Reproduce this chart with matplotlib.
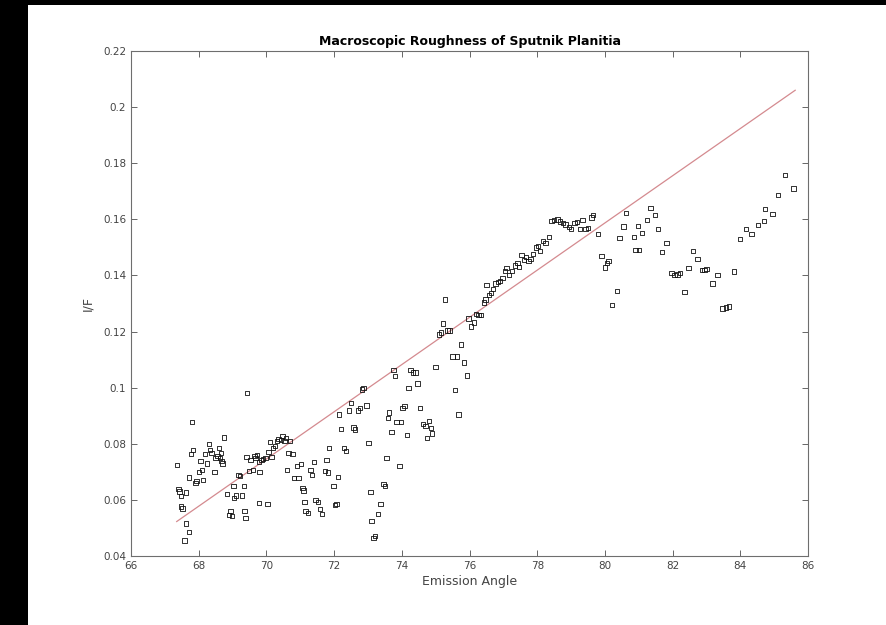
import matplotlib.pyplot as plt
import numpy as np
from matplotlib.patches import Rectangle

# emission angle / I/F pairs
emission = [
    67.35, 67.40, 67.43, 67.47, 67.48, 67.52, 67.63, 67.63, 67.72, 67.58,
    67.72, 67.80, 67.84, 67.77, 67.90, 67.94, 68.00, 68.10, 68.13, 68.05,
    68.18, 68.25, 68.30, 68.34, 68.38, 68.47, 68.50, 68.55, 68.60, 68.63,
    68.66, 68.70, 68.74, 68.67,
    68.84, 68.90, 68.94, 68.98, 69.03, 69.05, 69.10, 69.18, 69.22, 69.28,
    69.35, 69.38, 69.34, 69.43, 69.41, 69.48, 69.53, 69.60, 69.65, 69.68,
    69.73, 69.78, 69.80, 69.78, 69.86, 69.90, 69.97, 70.03, 70.06, 70.10,
    70.15, 70.20, 70.25, 70.31, 70.36, 70.43, 70.48, 70.53, 70.58, 70.65,
    70.70, 70.77, 70.61, 70.82, 70.90, 70.95, 71.02, 71.07, 71.10, 71.12,
    71.15, 71.23, 71.30, 71.35, 71.40, 71.45, 71.52, 71.58, 71.65, 71.73,
    71.78, 71.82, 71.85, 71.98, 72.02, 72.07, 72.12, 72.15, 72.20, 72.30,
    72.35, 72.44, 72.49, 72.57, 72.62, 72.70, 72.76, 72.82, 72.87, 72.96,
    73.02, 73.07, 73.10, 73.16, 73.20, 73.30, 73.37, 73.46, 73.50, 73.55,
    73.60, 73.63, 73.70, 73.75, 73.80, 73.84, 73.93, 73.97, 74.02, 74.08,
    74.16, 74.20, 74.26, 74.33, 74.40, 74.46, 74.53, 74.63, 74.70, 74.75,
    74.80, 74.86, 74.90, 75.00, 75.10, 75.16, 75.21, 75.28, 75.35, 75.41,
    75.50, 75.57, 75.63, 75.67, 75.75, 75.84, 75.93, 75.97, 76.05, 76.13,
    76.20, 76.27, 76.33, 76.43, 76.47, 76.50, 76.57, 76.64, 76.70, 76.77,
    76.84, 76.90, 76.97, 77.04, 77.09, 77.17, 77.25, 77.34, 77.42, 77.47,
    77.54, 77.60, 77.67, 77.74, 77.80, 77.87, 77.97, 78.02, 78.09, 78.17,
    78.24, 78.34, 78.42, 78.50, 78.60, 78.68, 78.76, 78.84, 78.93, 79.00,
    79.10, 79.18, 79.26, 79.34, 79.43, 79.50, 79.60, 79.64, 79.80,
    79.90, 80.00, 80.06, 80.11, 80.21, 80.35, 80.43, 80.55, 80.63, 80.85,
    80.90, 81.00, 80.98, 81.10, 81.24, 81.35, 81.47, 81.57, 81.69, 81.82,
    81.97, 82.05, 82.14, 82.22, 82.35, 82.47, 82.60, 82.73, 82.86, 82.94,
    83.00, 83.18, 83.32, 83.47, 83.57, 83.66, 83.81, 83.99, 84.16, 84.33,
    84.53, 84.70, 84.73, 84.95, 85.12, 85.32, 85.57,
]
i_over_f = [
    0.0724, 0.0638, 0.0630, 0.0613, 0.0576, 0.0570, 0.0627, 0.0516, 0.0485, 0.0455,
    0.0680, 0.0877, 0.0778, 0.0763, 0.0661, 0.0668, 0.0700, 0.0707, 0.0670, 0.0738,
    0.0763, 0.0730, 0.0799, 0.0778, 0.0767, 0.0700, 0.0750, 0.0757, 0.0785, 0.0750,
    0.0767, 0.0730, 0.0823, 0.0738,
    0.0621, 0.0546, 0.0560, 0.0542, 0.0650, 0.0607, 0.0615, 0.0688, 0.0685, 0.0615,
    0.0560, 0.0536, 0.0650, 0.0980, 0.0752, 0.0702, 0.0742, 0.0707, 0.0757, 0.0750,
    0.0759, 0.0735, 0.0700, 0.0589, 0.0742, 0.0745, 0.0750, 0.0586, 0.0771, 0.0806,
    0.0752, 0.0785, 0.0792, 0.0809, 0.0816, 0.0813, 0.0827, 0.0809, 0.0820, 0.0767,
    0.0809, 0.0763, 0.0707, 0.0678, 0.0721, 0.0678, 0.0728, 0.0643, 0.0633, 0.0593,
    0.0560, 0.0553, 0.0707, 0.0688, 0.0735, 0.0600, 0.0593, 0.0568, 0.0550, 0.0702,
    0.0742, 0.0697, 0.0785, 0.0650, 0.0582, 0.0586, 0.0681, 0.0905, 0.0853, 0.0785,
    0.0775, 0.0919, 0.0945, 0.0858, 0.0851, 0.0919, 0.0927, 0.0993, 0.0998, 0.0937,
    0.0802, 0.0629, 0.0525, 0.0465, 0.0472, 0.0550, 0.0586, 0.0657, 0.0650, 0.0750,
    0.0891, 0.0912, 0.0842, 0.1062, 0.1041, 0.0877, 0.0721, 0.0877, 0.0927, 0.0934,
    0.0832, 0.0999, 0.1062, 0.1054, 0.1054, 0.1015, 0.0927, 0.0870, 0.0863, 0.0820,
    0.0881, 0.0856, 0.0837, 0.1073, 0.1190, 0.1197, 0.1229, 0.1314, 0.1204, 0.1204,
    0.1111, 0.0991, 0.1111, 0.0905, 0.1154, 0.1090, 0.1043, 0.1246, 0.1218, 0.1232,
    0.1263, 0.1260, 0.1260, 0.1303, 0.1314, 0.1366, 0.1331, 0.1338, 0.1352, 0.1371,
    0.1377, 0.1380, 0.1390, 0.1416, 0.1426, 0.1402, 0.1416, 0.1436, 0.1445, 0.1431,
    0.1473, 0.1455, 0.1466, 0.1452, 0.1459, 0.1476, 0.1499, 0.1504, 0.1487, 0.1523,
    0.1516, 0.1537, 0.1593, 0.1597, 0.1600, 0.1592, 0.1587, 0.1581, 0.1573, 0.1566,
    0.1587, 0.1591, 0.1566, 0.1597, 0.1566, 0.1570, 0.1607, 0.1615, 0.1547,
    0.1470, 0.1428, 0.1445, 0.1451, 0.1294, 0.1345, 0.1533, 0.1575, 0.1622, 0.1537,
    0.1490, 0.1490, 0.1577, 0.1551, 0.1598, 0.1640, 0.1615, 0.1566, 0.1484, 0.1516,
    0.1409, 0.1402, 0.1404, 0.1409, 0.1342, 0.1426, 0.1487, 0.1459, 0.1419, 0.1420,
    0.1422, 0.1371, 0.1402, 0.1282, 0.1286, 0.1289, 0.1414, 0.1529, 0.1566, 0.1547,
    0.1580, 0.1594, 0.1637, 0.1618, 0.1686, 0.1757, 0.1710,
]

# straight-line fit drawn over the data range
FIT_SLOPE = 0.008414
FIT_INTERCEPT = -0.5144

fig = plt.figure(figsize=(8.87, 6.25), dpi=100)
ax = fig.add_axes([0.1477, 0.1104, 0.7633, 0.808])

ax.scatter(emission, i_over_f, marker="s", s=10, facecolors="none",
           edgecolors="#111111", linewidths=0.6, zorder=3)

fit_x = np.array([min(emission), max(emission) + 0.05])
ax.plot(fit_x, FIT_SLOPE * fit_x + FIT_INTERCEPT, color="#d48a8f", lw=0.9, zorder=2)

ax.set_xlim(66, 86)
ax.set_ylim(0.04, 0.22)
ax.set_xticks(np.arange(66, 87, 2))
ax.set_yticks(np.arange(0.04, 0.221, 0.02))
ax.set_yticklabels(["0.04", "0.06", "0.08", "0.1", "0.12", "0.14", "0.16",
                    "0.18", "0.2", "0.22"])

grey = "#4d4d4d"
ax.tick_params(direction="in", length=4, width=0.6, colors=grey,
               labelsize=7.5, top=True, right=True, labelcolor="#444444")
for spine in ax.spines.values():
    spine.set_color("#6e6e6e")
    spine.set_linewidth(0.8)

ax.set_xlabel("Emission Angle", fontsize=9, color="#444444", labelpad=3)
ax.set_ylabel("I/F", fontsize=9, color="#444444", labelpad=6)
ax.set_title("Macroscopic Roughness of Sputnik Planitia", fontsize=9,
             fontweight="bold", pad=4)

# dark frame strips visible in the original screenshot
fig.patches.append(Rectangle((0, 0), 28 / 887, 1, transform=fig.transFigure,
                             facecolor="black", edgecolor="none", zorder=-1))
fig.patches.append(Rectangle((0, 1 - 5 / 625), 1, 5 / 625, transform=fig.transFigure,
                             facecolor="black", edgecolor="none", zorder=-1))

fig.savefig("out.png", dpi=100, facecolor="white")
